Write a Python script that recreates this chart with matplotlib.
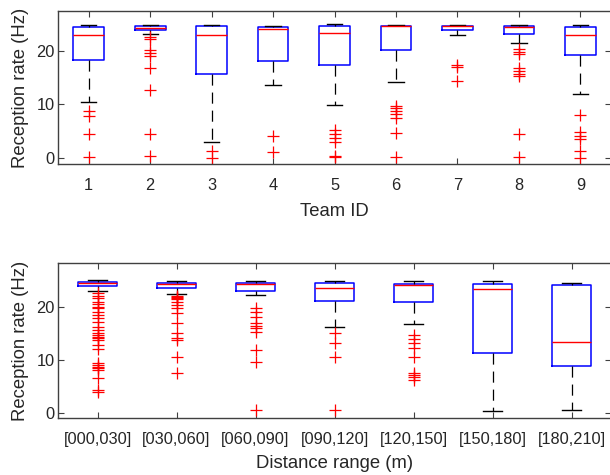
import numpy as np
import matplotlib.pyplot as plt

plt.rcParams['font.family'] = ['Liberation Sans', 'DejaVu Sans']
plt.rcParams['lines.scale_dashes'] = False

# ---- top panel: reception rate per team ----
team_ids = ['1', '2', '3', '4', '5', '6', '7', '8', '9']
team_whislo = [10.45, 23.2, 2.95, 13.6, 9.8, 14.2, 23.1, 21.6, 11.9]
team_q1 = [18.3, 23.9, 15.8, 18.1, 17.45, 20.3, 24.0, 23.3, 19.3]
team_med = [23.1, 24.45, 23.1, 24.1, 23.45, 24.65, 24.65, 24.6, 23.0]
team_q3 = [24.6, 24.8, 24.65, 24.5, 24.8, 24.8, 24.8, 24.8, 24.5]
team_whishi = [24.9, 24.9, 24.9, 24.8, 25.1, 25.0, 24.9, 24.9, 24.9]
team_fliers = [
    [8.75, 7.9, 4.4, 0.2],
    [22.6, 22.2, 20.2, 19.6, 19.1, 16.8, 12.8, 4.4, 0.3],
    [1.3, 0.0],
    [4.0, 1.07],
    [5.2, 4.45, 3.75, 2.9, 0.4, 0.1],
    [9.75, 9.25, 8.75, 8.25, 7.4, 4.55, 0.2],
    [17.45, 17.0, 14.4],
    [20.5, 19.9, 19.45, 16.9, 16.3, 15.8, 15.4, 4.5, 0.2],
    [7.95, 4.9, 4.1, 3.5, 1.3, 0.0],
]

# ---- bottom panel: reception rate per distance range ----
dist_ranges = ['[000,030]', '[030,060]', '[060,090]', '[090,120]',
               '[120,150]', '[150,180]', '[180,210]']
dist_whislo = [23.15, 22.5, 22.3, 16.3, 16.9, 0.4, 0.5]
dist_q1 = [24.1, 23.7, 23.0, 21.2, 21.0, 11.35, 8.85]
dist_med = [24.6, 24.5, 24.4, 23.6, 24.2, 23.4, 13.5]
dist_q3 = [24.85, 24.7, 24.7, 24.55, 24.5, 24.5, 24.3]
dist_whishi = [25.1, 25.0, 24.9, 24.9, 24.9, 24.9, 24.6]
dist_fliers = [
    [22.65, 22.2, 21.7, 21.06, 20.6, 20.1, 19.8, 19.2, 18.5, 17.9, 17.3,
     16.3, 15.7, 15.1, 14.7, 14.4, 14.1, 13.8, 12.85, 12.0, 9.4, 9.05,
     8.7, 8.4, 8.1, 6.5, 4.3, 4.0],
    [22.2, 22.0, 21.8, 21.5, 21.06, 20.4, 19.8, 18.85, 17.0, 15.1, 14.1,
     13.8, 10.6, 7.45],
    [19.8, 19.2, 18.2, 17.0, 16.5, 16.0, 15.4, 11.9, 9.55, 0.5],
    [15.05, 13.2, 10.6, 0.5],
    [14.75, 13.9, 13.2, 12.35, 10.6, 7.5, 7.2, 6.85, 6.3],
    [],
    [],
]


def make_stats(lo, q1, med, q3, hi, fl):
    return [dict(whislo=a, q1=b, med=c, q3=d, whishi=e, fliers=f)
            for a, b, c, d, e, f in zip(lo, q1, med, q3, hi, fl)]


box_style = dict(
    widths=0.5,
    boxprops=dict(color='#0000ff', linewidth=1.1),
    medianprops=dict(color='#ff0000', linewidth=1.0),
    whiskerprops=dict(color='black', linewidth=0.9, linestyle=(0, (8, 5))),
    capprops=dict(color='black', linewidth=1.0),
    flierprops=dict(marker='+', markeredgecolor='#ff0000', markersize=8,
                    markeredgewidth=0.9, linestyle='none'),
)


def style_axes(ax):
    for s in ax.spines.values():
        s.set_color('#404040')
        s.set_linewidth(1.0)
    ax.tick_params(direction='in', top=True, right=True, length=4.3,
                   width=0.8, color='#404040', labelcolor='#262626',
                   labelsize=11.8)
    ax.tick_params(axis='y', pad=2.5)
    ax.tick_params(axis='x', pad=10)
    ax.set_yticks([0, 10, 20])


fig = plt.figure(figsize=(6.1, 4.75), dpi=100)

ax1 = fig.add_axes([0.0951, 0.6547, 0.9066, 0.3227])
ax1.bxp(make_stats(team_whislo, team_q1, team_med, team_q3, team_whishi,
                   team_fliers), positions=np.arange(1, 10), **box_style)
ax1.set_xlim(0.5, 9.5)
ax1.set_ylim(-1.2, 27.6)
ax1.set_xticks(np.arange(1, 10))
ax1.set_xticklabels(team_ids)
style_axes(ax1)
ax1.set_xlabel('Team ID', fontsize=13.3, color='#262626', labelpad=7)
ax1.set_ylabel('Reception rate (Hz)', fontsize=13.3, color='#262626',
               labelpad=5)

ax2 = fig.add_axes([0.0951, 0.12, 0.9066, 0.3263])
ax2.bxp(make_stats(dist_whislo, dist_q1, dist_med, dist_q3, dist_whishi,
                   dist_fliers), positions=np.arange(1, 8), **box_style)
ax2.set_xlim(0.5, 7.5)
ax2.set_ylim(-1.0, 28.4)
ax2.set_xticks(np.arange(1, 8))
ax2.set_xticklabels(dist_ranges)
style_axes(ax2)
ax2.set_xlabel('Distance range (m)', fontsize=13.3, color='#262626',
               labelpad=6)
ax2.set_ylabel('Reception rate (Hz)', fontsize=13.3, color='#262626',
               labelpad=5)

fig.savefig('out.png', dpi=100)
